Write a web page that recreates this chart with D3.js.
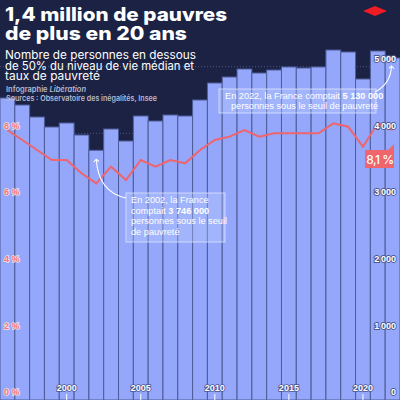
<!DOCTYPE html>
<html>
<head>
<meta charset="utf-8">
<script src="https://cdn.jsdelivr.net/npm/d3@7"></script>
<style>
  html, body { margin: 0; padding: 0; background: #1b2244; }
  svg { display: block; font-family: Inter, "Noto Sans", sans-serif; }
</style>
</head>
<body>
<svg id="chart" width="400" height="400"></svg>
<script>
// years 1996 - 2022
const years = d3.range(1996, 2023);
// people under the 50% threshold (thousands)
const pauvres = [4530, 4425, 4245, 4095, 4155, 3975, 3746, 4065, 3885, 4260,
  4185, 4275, 4260, 4500, 4755, 4845, 4965, 4905, 4950, 4995,
  4980, 4995, 5250, 5220, 4815, 5235, 5130];
// poverty rate (%)
const taux = [8.1, 7.8, 7.5, 7.2, 7.2, 6.8, 6.5, 7.0, 6.6, 7.2,
  7.0, 7.2, 7.1, 7.5, 7.8, 7.9, 8.1, 7.9, 8.0, 8.0,
  8.0, 8.0, 8.3, 8.2, 7.6, 8.3, 8.1];
const pctTicks = [0, 2, 4, 6, 8];
const countTicks = [0, 1000, 2000, 3000, 4000, 5000];
const yearTicks = [2000, 2005, 2010, 2015, 2020];

const W = 400, H = 400;
const svg = d3.select('#chart');

const x = d3.scaleBand().domain(years).range([0, W]).padding(0);
const yCount = d3.scaleLinear().domain([0, 6000]).range([H, 0]);
const yPct = d3.scaleLinear().domain([0, 12]).range([H, 0]);
const bw = x.bandwidth();

const fr = d3.formatLocale({ decimal: ',', thousands: '\u2009', grouping: [3] });
const fmtCount = fr.format(',d');

svg.append('rect').attr('width', W).attr('height', H).attr('fill', '#1b2244');

// dotted gridlines
svg.append('g').selectAll('line')
  .data(countTicks.slice(1))
  .join('line')
  .attr('x1', 0).attr('x2', W)
  .attr('y1', d => yCount(d)).attr('y2', d => yCount(d))
  .attr('stroke', '#4a5689').attr('stroke-width', 1)
  .attr('stroke-dasharray', '1,2');

// bars
svg.append('g').selectAll('rect')
  .data(years)
  .join('rect')
  .attr('x', d => x(d))
  .attr('width', bw)
  .attr('y', (d, i) => yCount(pauvres[i]))
  .attr('height', (d, i) => H - yCount(pauvres[i]))
  .attr('fill', '#94a7fb')
  .attr('stroke', '#4e5c98')
  .attr('stroke-width', 1);

// poverty rate line
const line = d3.line()
  .x((d, i) => x(years[i]) + bw / 2)
  .y(d => yPct(d));
svg.append('path')
  .datum(taux)
  .attr('d', line)
  .attr('fill', 'none')
  .attr('stroke', '#f0646c')
  .attr('stroke-width', 2);

// left axis (%)
const left = svg.append('g')
  .attr('transform', 'translate(4,-8)')
  .call(d3.axisRight(yPct).tickValues(pctTicks).tickSize(0).tickPadding(0)
    .tickFormat(d => d + ' %'));
left.select('.domain').remove();
left.selectAll('text')
  .attr('fill', '#f4767a')
  .attr('stroke', 'rgba(255,235,235,0.85)')
  .attr('stroke-width', 1.6)
  .attr('paint-order', 'stroke')
  .style('font-size', '9px')
  .style('font-weight', 600);

// right axis (thousands)
const right = svg.append('g')
  .attr('transform', 'translate(396,-8)')
  .call(d3.axisLeft(yCount).tickValues(countTicks).tickSize(0).tickPadding(0)
    .tickFormat(fmtCount));
right.select('.domain').remove();
right.selectAll('text')
  .attr('fill', '#ffffff')
  .attr('stroke', '#4a5690')
  .attr('stroke-width', 1.8)
  .attr('paint-order', 'stroke')
  .style('font-size', '9px')
  .style('font-weight', 600);

// x axis
const bottom = svg.append('g')
  .attr('transform', `translate(0,${H})`)
  .call(d3.axisTop(x).tickValues(yearTicks).tickSize(6).tickPadding(3));
bottom.select('.domain').remove();
bottom.selectAll('line').attr('stroke', '#ffffff').attr('stroke-width', 1);
bottom.selectAll('text')
  .attr('fill', '#ffffff')
  .attr('stroke', '#4a5690')
  .attr('stroke-width', 1.6)
  .attr('paint-order', 'stroke')
  .style('font-size', '9px')
  .style('font-weight', 700);

// titles
const titleLines = [['1,4 million de pauvres', 21, 222], ['de plus en 20 ans', 40, 182]];
titleLines.forEach(([t, y, len]) => {
  svg.append('text').attr('x', 5).attr('y', y).attr('fill', '#ffffff')
    .attr('textLength', len).attr('lengthAdjust', 'spacingAndGlyphs')
    .style('font-size', '18.5px').style('font-weight', 800)
    .text(t);
});

const subLines = [['Nombre de personnes en dessous', 59, 191],
  ['de 50% du niveau de vie médian et', 69.5, 189],
  ['taux de pauvreté', 80, 95]];
subLines.forEach(([t, y, len]) => {
  svg.append('text').attr('x', 5).attr('y', y).attr('fill', '#ffffff')
    .attr('textLength', len).attr('lengthAdjust', 'spacingAndGlyphs')
    .style('font-size', '11.5px').style('font-weight', 400)
    .text(t);
});

const credit = svg.append('text').attr('fill', '#b6bbd0')
  .style('font-size', '7.5px').style('font-weight', 600);
credit.append('tspan').attr('x', 6).attr('y', 91.5).text('Infographie ');
credit.append('tspan').style('font-style', 'italic').text('Libération');
svg.append('text').attr('fill', '#b6bbd0')
  .attr('x', 6).attr('y', 100.5)
  .attr('textLength', 151).attr('lengthAdjust', 'spacingAndGlyphs')
  .style('font-size', '7.5px').style('font-weight', 600)
  .text('Sources : Observatoire des inégalités, Insee');

// logo
svg.append('path')
  .attr('d', 'M363,11 L375,6 L387,11 L375,16 Z')
  .attr('fill', '#ee1c25');

// annotations
svg.append('defs').append('marker')
  .attr('id', 'arr').attr('viewBox', '0 0 10 10')
  .attr('refX', 5).attr('refY', 5)
  .attr('markerWidth', 6).attr('markerHeight', 6)
  .attr('orient', 'auto-start-reverse')
  .append('path').attr('d', 'M1,1 L5,5 L1,9')
  .attr('fill', 'none').attr('stroke', '#ffffff').attr('stroke-width', 1.5);

function note(x0, y0, w, h, lines, lh) {
  svg.append('rect')
    .attr('x', x0).attr('y', y0).attr('width', w).attr('height', h)
    .attr('fill', 'rgba(190,205,255,0.35)')
    .attr('stroke', 'rgba(225,232,255,0.75)').attr('stroke-width', 1);
  const t = svg.append('text').attr('fill', '#ffffff')
    .style('font-size', '9.2px').style('font-family', '"Liberation Sans", Arial, sans-serif');
  lines.forEach((l, i) => {
    const ts = t.append('tspan').attr('x', l.x).attr('y', y0 + 10 + i * lh);
    l.parts.forEach(p => {
      ts.append('tspan').style('font-weight', p.b ? 700 : 400).text(p.t);
    });
  });
}

// 2002 note
const x02 = x(2002) + bw / 2;
note(126, 193, 99, 49, [
  { x: 131, parts: [{ t: 'En 2002, la France' }] },
  { x: 131, parts: [{ t: 'comptait ' }, { t: '3 746 000', b: true }] },
  { x: 131, parts: [{ t: 'personnes sous le seuil' }] },
  { x: 131, parts: [{ t: 'de pauvreté' }] }
], 10.5);
svg.append('path')
  .attr('d', `M126,198 Q${x02 + 2},192 ${x02},${yCount(pauvres[6]) + 9}`)
  .attr('fill', 'none').attr('stroke', '#ffffff').attr('stroke-width', 1.1)
  .attr('marker-end', 'url(#arr)');

// 2022 note
const x22 = x(2022) + bw / 2;
note(219, 89, 157, 24, [
  { x: 225, parts: [{ t: 'En 2022, la France comptait ' }, { t: '5 130 000', b: true }] },
  { x: 231, parts: [{ t: 'personnes sous le seuil de pauvreté' }] }
], 9.5);
svg.append('path')
  .attr('d', `M375,92 Q${x22 - 2},84 ${x22 - 1},${yCount(pauvres[26]) + 8}`)
  .attr('fill', 'none').attr('stroke', '#ffffff').attr('stroke-width', 1.1)
  .attr('marker-end', 'url(#arr)');

// last value label
const ly = yPct(taux[26]) + 20;
svg.append('path')
  .attr('d', `M365,${ly} L388,${ly} L394,${ly - 6} L394,${ly + 18} L365,${ly + 18} Z`)
  .attr('fill', '#f0646c');
svg.append('text')
  .attr('x', 380).attr('y', ly + 13.5)
  .attr('text-anchor', 'middle')
  .attr('fill', '#ffffff')
  .style('font-size', '12px').style('font-weight', 500).style('letter-spacing', '-0.5px')
  .text(fr.format('.1f')(taux[26]) + ' %');
</script>
</body>
</html>
